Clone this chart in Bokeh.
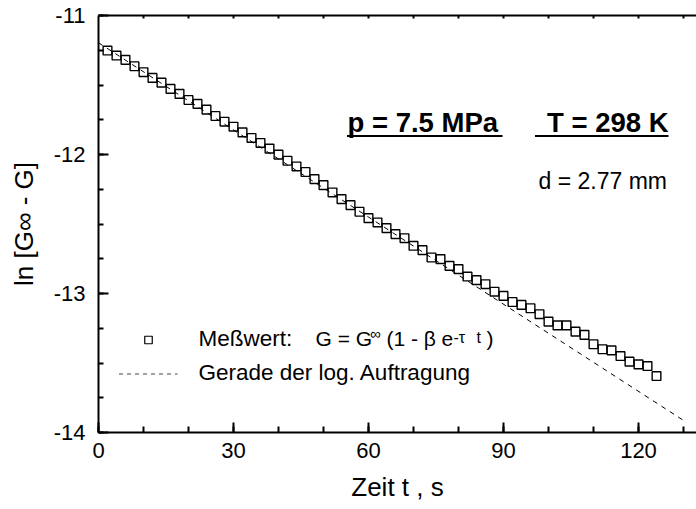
import numpy as np
from bokeh.plotting import figure
from bokeh.models import Range1d, LinearAxis, FixedTicker, Label
from bokeh.embed import file_html
from bokeh.resources import INLINE

# ---------------- data ----------------
time_s = list(range(2, 125, 2))
ln_values = [
    -11.252, -11.288, -11.319, -11.365, -11.408, -11.449, -11.483, -11.528, -11.564, -11.608,
    -11.636, -11.677, -11.723, -11.764, -11.800, -11.841, -11.881, -11.917, -11.958, -12.001,
    -12.045, -12.086, -12.126, -12.177, -12.220, -12.273, -12.321, -12.364, -12.412, -12.458,
    -12.489, -12.530, -12.573, -12.602, -12.657, -12.688, -12.741, -12.753, -12.801, -12.825,
    -12.878, -12.904, -12.933, -12.987, -13.017, -13.061, -13.082, -13.106, -13.149, -13.202,
    -13.229, -13.229, -13.274, -13.298, -13.365, -13.401, -13.409, -13.450, -13.490, -13.510,
    -13.522, -13.594,
]
fit_t = [0, 130]
fit_ln = [-11.196, -13.913]
x_ticks = [0, 30, 60, 90, 120]
x_tick_labels = ["0", "30", "60", "90", "120"]
y_ticks = [-14, -13, -12, -11]
y_tick_labels = ["-14", "-13", "-12", "-11"]

# ---------------- layout ----------------
FONT = "Liberation Sans"
W, H = 696, 509
L, T, B = 98, 15, 432
PXX = 4.5
X_END = (W - L) / PXX
PXY = (B - T) / 3.0


def X(px):
    return (px - L) / PXX


def Y(py):
    return -11 - (py - T) / PXY


p = figure(width=W, height=H, output_backend="svg", toolbar_location=None,
           x_range=Range1d(0, X_END), y_range=Range1d(-14, -11),
           min_border_left=L, min_border_right=0, min_border_top=T,
           min_border_bottom=H - B, x_axis_type=None, y_axis_type=None)
p.outline_line_color = None
p.background_fill_color = "white"
p.border_fill_color = "white"


def style_axis(ax, size):
    ax.axis_line_width = 2
    ax.axis_line_color = "black"
    ax.major_tick_line_width = 2
    ax.minor_tick_line_width = 2
    ax.major_tick_out = 0
    ax.minor_tick_out = 0
    ax.major_label_text_font = FONT
    ax.major_label_text_font_size = size
    ax.major_label_text_color = "black"
    ax.axis_label_text_font = FONT
    ax.axis_label_text_font_style = "normal"
    ax.axis_label_text_color = "black"


xb = LinearAxis(ticker=FixedTicker(ticks=x_ticks, minor_ticks=list(range(0, 131, 10))),
                major_label_overrides={t: s for t, s in zip(x_ticks, x_tick_labels)},
                axis_label="Zeit t , s")
style_axis(xb, "22px")
xb.major_tick_in = 10
xb.minor_tick_in = 6
xb.major_label_standoff = 10
xb.axis_label_text_font_size = "26px"
xb.axis_label_standoff = 11
p.add_layout(xb, "below")

yl = LinearAxis(ticker=FixedTicker(ticks=y_ticks,
                                   minor_ticks=[float(v) for v in np.arange(-14, -10.99, 0.25)]),
                major_label_overrides={t: s for t, s in zip(y_ticks, y_tick_labels)},
                axis_label="ln [G∞ - G]")
style_axis(yl, "22px")
yl.major_tick_in = 10
yl.minor_tick_in = 5
yl.major_label_standoff = 13
yl.axis_label_text_font_size = "26px"
yl.axis_label_standoff = 12
p.add_layout(yl, "left")

xt = LinearAxis(ticker=FixedTicker(ticks=list(range(10, 131, 10)), minor_ticks=[]))
style_axis(xt, "1px")
xt.major_tick_in = 3
xt.major_label_text_color = None
xt.major_label_standoff = 0
p.add_layout(xt, "above")

# ---------------- data marks ----------------
p.line(fit_t, fit_ln, line_color="black", line_width=1, line_dash="5 5")
p.scatter(time_s, ln_values, marker="square", size=8.7, fill_color=None,
          line_color="black", line_width=1.4)

# ---------------- legend (manual) ----------------
p.scatter([X(148)], [Y(339.5)], marker="square", size=7.5, fill_color=None,
          line_color="black", line_width=1.2)
p.line([X(118.5), X(177)], [Y(373.5), Y(373.5)], line_color="#444444",
       line_width=1, line_dash="4 4")


def lab(text, px, baseline, size, style="normal"):
    # the label's anchor is rendered at the middle of the em box
    s = float(size.replace("px", ""))
    p.add_layout(Label(x=X(px), y=Y(baseline - 0.36 * s), text=text, text_font=FONT,
                       text_font_size=size, text_font_style=style, text_color="black",
                       text_align="left", text_baseline="alphabetic"))


LS = "22.5px"
FS = "21px"
SS = "16px"
lab("Meßwert:", 198, 346, LS)
lab("G = G", 315, 346, FS)
lab("∞", 369.5, 338.5, "15px")
lab("(1 - β", 386, 346, FS)
lab("e", 441, 346, FS)
lab("-τ", 453, 343, SS)
lab("t", 476, 343, SS)
lab(")", 486, 346, FS)
lab("Gerade der log. Auftragung", 198, 380, LS)

# annotations
lab("p = 7.5 MPa", 347, 131.5, "27.5px", style="bold")
lab("T = 298 K", 546.5, 131.5, "27.5px", style="bold")
p.segment(x0=[X(346.5), X(534.5)], y0=[Y(135.5), Y(135.5)],
          x1=[X(502), X(668)], y1=[Y(135.5), Y(135.5)],
          line_color="black", line_width=2)
lab("d = 2.77 mm", 538, 188.5, "23px")

open("out.html", "w").write(file_html(p, INLINE))
